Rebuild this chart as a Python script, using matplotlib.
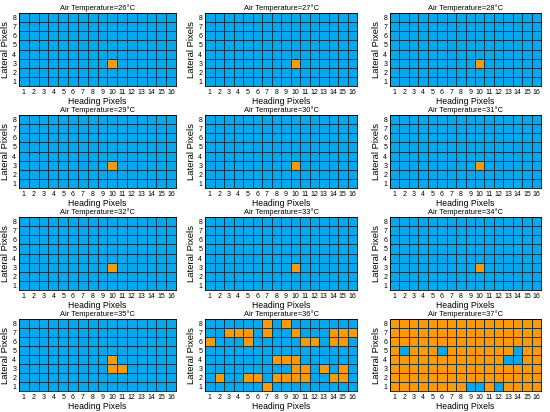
import numpy as np
import matplotlib
matplotlib.use('Agg')
import matplotlib.pyplot as plt
from matplotlib.colors import ListedColormap

plt.rcParams['font.family'] = ['Liberation Sans Narrow', 'Liberation Sans', 'DejaVu Sans']

# air temperatures of the 12 panels
temps = [26, 27, 28, 29, 30, 31, 32, 33, 34, 35, 36, 37]

# orange (hot) cells as (heading, lateral) for each panel
hot_single = [(10, 3)]
hot_35 = [(10, 3), (10, 4), (11, 3)]
hot_36 = [(7, 8), (9, 8),
          (3, 7), (4, 7), (5, 7), (7, 7), (10, 7), (14, 7), (15, 7), (16, 7),
          (1, 6), (5, 6), (11, 6), (12, 6), (14, 6), (15, 6),
          (8, 4), (9, 4), (10, 4),
          (10, 3), (11, 3), (13, 3), (15, 3),
          (2, 2), (5, 2), (6, 2), (8, 2), (9, 2), (10, 2), (11, 2), (14, 2), (15, 2),
          (7, 1)]
# for 37 C almost everything is hot: these are the cold (blue) cells
cold_37 = [(2, 5), (6, 5), (14, 5), (13, 4), (14, 4), (9, 1), (10, 1), (12, 1)]

heading = np.arange(1, 17)
lateral = np.arange(1, 9)


def make_grid(cells, fill=0):
    g = np.full((8, 16), fill)
    for h, l in cells:
        g[l - 1, h - 1] = 1 - fill
    return g


grids = []
for t in temps:
    if t <= 34:
        grids.append(make_grid(hot_single))
    elif t == 35:
        grids.append(make_grid(hot_35))
    elif t == 36:
        grids.append(make_grid(hot_36))
    else:
        grids.append(make_grid(cold_37, fill=1))

cmap = ListedColormap(['#00AAF0', '#FF9900'])

fig = plt.figure(figsize=(5.5, 4.12), dpi=100)
W, H = 550, 412
col_x = [(19, 176), (205, 357), (390, 541)]
row_y = [(13, 86), (115, 188), (217, 290), (319, 391)]

for i, (t, g) in enumerate(zip(temps, grids)):
    r, c = divmod(i, 3)
    x0, x1 = col_x[c]
    y0, y1 = row_y[r]
    ax = fig.add_axes([x0 / W, 1 - y1 / H, (x1 - x0) / W, (y1 - y0) / H])
    xe = np.arange(0.5, 17)
    ye = np.arange(0.5, 9)
    ax.pcolormesh(xe, ye, g, cmap=cmap, vmin=0, vmax=1,
                  edgecolors='#173447', linewidth=0.45)
    ax.set_xlim(0.5, 16.5)
    ax.set_ylim(0.5, 8.5)
    ax.set_xticks(heading)
    ax.set_yticks(lateral)
    ax.tick_params(length=0, labelsize=5, pad=2)
    ax.set_title(f'Air Temperature={t}°C', fontsize=5.4, pad=2.5)
    ax.set_xlabel('Heading Pixels', fontsize=6.2, labelpad=1)
    ax.set_ylabel('Lateral Pixels', fontsize=6.8, labelpad=1.5)
    for s in ax.spines.values():
        s.set_linewidth(0.6)

fig.savefig('out.png', dpi=100)
